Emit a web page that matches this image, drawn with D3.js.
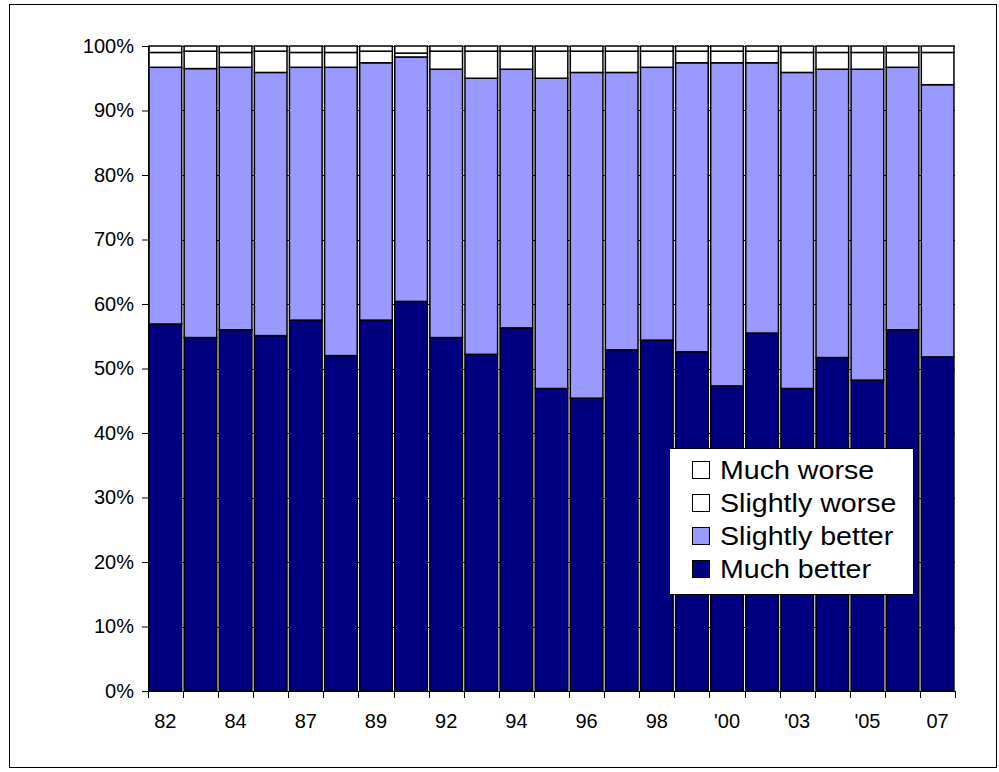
<!DOCTYPE html>
<html>
<head>
<meta charset="utf-8">
<script src="https://cdn.jsdelivr.net/npm/d3@7/dist/d3.min.js"></script>
<style>
  html, body { margin: 0; padding: 0; background: #fff; }
  svg { display: block; }
  text { font-family: "Liberation Sans", Arial, sans-serif; fill: #000; }
</style>
</head>
<body>
<svg id="chart" width="999" height="772"></svg>
<script>
// ---- data (percent of respondents) ----
const categories = ["82","83","84","85","87","88","89","90","92","93","94","95","96","97","98","99","'00","'02","'03","'04","'05","'06","07"];
const muchBetter     = [56.9,54.8,56.0,55.1,57.5,52.0,57.5,60.4,54.8,52.2,56.3,46.9,45.4,52.9,54.4,52.6,47.3,55.5,46.9,51.7,48.2,56.0,51.8];
const slightlyBetter = [39.8,41.7,40.7,40.8,39.2,44.7,39.9,37.9,41.6,42.8,40.1,48.1,50.5,43.0,42.3,44.8,50.1,41.9,49.0,44.7,48.2,40.7,42.2];
const slightlyWorse  = [2.3,2.7,2.3,3.3,2.3,2.3,1.8,0.6,2.8,4.2,2.8,4.2,3.3,3.3,2.5,1.8,1.8,1.8,3.1,2.6,2.6,2.3,5.0];
const muchWorse      = [1.0,0.8,1.0,0.8,1.0,1.0,0.8,1.1,0.8,0.8,0.8,0.8,0.8,0.8,0.8,0.8,0.8,0.8,1.0,1.0,1.0,1.0,1.0];
const seriesNames = ["Much better","Slightly better","Slightly worse","Much worse"];
const yTicks = [0,10,20,30,40,50,60,70,80,90,100];
const seriesColors = ["#000080","#9999FF","#FFFFFF","#FFFFFF"];

const rows = categories.map((c, i) => ({
  cat: c,
  "Much better": muchBetter[i],
  "Slightly better": slightlyBetter[i],
  "Slightly worse": slightlyWorse[i],
  "Much worse": muchWorse[i]
}));

const svg = d3.select("#chart");

// outer frame
svg.append("rect").attr("x", 9.5).attr("y", 4.5).attr("width", 987).attr("height", 763)
  .attr("fill", "#fff").attr("stroke", "#000").attr("stroke-width", 1);

const plot = { left: 148, right: 955, top: 46, bottom: 691 };

const x = d3.scaleBand().domain(categories).range([plot.left, plot.right])
  .paddingInner(0.07).paddingOuter(0.03);
const y = d3.scaleLinear().domain([0, 100]).range([plot.bottom, plot.top]);

// gridlines (behind bars, show through gaps)
svg.append("g").selectAll("line").data(yTicks.filter(d => d > 0)).join("line")
  .attr("x1", plot.left).attr("x2", plot.right)
  .attr("y1", d => Math.round(y(d)) + 0.5).attr("y2", d => Math.round(y(d)) + 0.5)
  .attr("stroke", "#000").attr("stroke-width", 1);

const stack = d3.stack().keys(seriesNames)(rows);
const color = d3.scaleOrdinal().domain(seriesNames).range(seriesColors);

svg.append("g").selectAll("g").data(stack).join("g")
  .attr("fill", d => color(d.key))
  .selectAll("rect").data(d => d).join("rect")
  .attr("x", d => x(d.data.cat))
  .attr("width", x.bandwidth())
  .attr("y", d => y(d[1]))
  .attr("height", d => y(d[0]) - y(d[1]))
  .attr("stroke", "#000").attr("stroke-width", 1.5);

// y axis
const yAxis = d3.axisLeft(y).tickValues(yTicks).tickFormat(d => d + "%").tickSizeOuter(0).tickSize(6).tickPadding(8);
const gy = svg.append("g").attr("transform", `translate(${plot.left},0)`).call(yAxis);
gy.selectAll("text").style("font-size", "20px").style("font-family", "'Liberation Sans', Arial, sans-serif");
gy.selectAll("line, path").attr("stroke", "#000");

// x axis: ticks between categories
const step = x.step();
const gx = svg.append("g").attr("transform", `translate(0,${plot.bottom})`);
gx.append("line").attr("x1", plot.left).attr("x2", plot.right).attr("y1", 0.5).attr("y2", 0.5).attr("stroke", "#000");
const boundaries = categories.map((c, i) => x(c) - (step - x.bandwidth()) / 2).concat([plot.right]);
gx.selectAll("line.tk").data(boundaries).join("line").attr("class", "tk")
  .attr("x1", d => Math.round(d) + 0.5).attr("x2", d => Math.round(d) + 0.5)
  .attr("y1", 0).attr("y2", 7).attr("stroke", "#000");
gx.selectAll("text").data(categories.filter((c, i) => i % 2 === 0)).join("text")
  .attr("x", d => x(d) + x.bandwidth() / 2)
  .attr("y", 37)
  .attr("text-anchor", "middle")
  .style("font-size", "20px")
  .text(d => d);

// legend
const leg = svg.append("g").attr("transform", "translate(669,448)");
leg.append("rect").attr("x", 0.5).attr("y", 0.5).attr("width", 244).attr("height", 146)
  .attr("fill", "#fff").attr("stroke", "#000");
const legendOrder = ["Much worse","Slightly worse","Slightly better","Much better"];
const li = leg.selectAll("g.item").data(legendOrder).join("g").attr("class", "item")
  .attr("transform", (d, i) => `translate(23,${22 + i * 33})`);
li.append("rect").attr("x", 0.5).attr("y", -8.5).attr("width", 17).attr("height", 17)
  .attr("fill", d => color(d)).attr("stroke", "#000");
li.append("text").attr("transform", "translate(28,0) scale(1.1,1)").attr("dy", "0.36em")
  .style("font-size", "26px").text(d => d);
</script>
</body>
</html>
